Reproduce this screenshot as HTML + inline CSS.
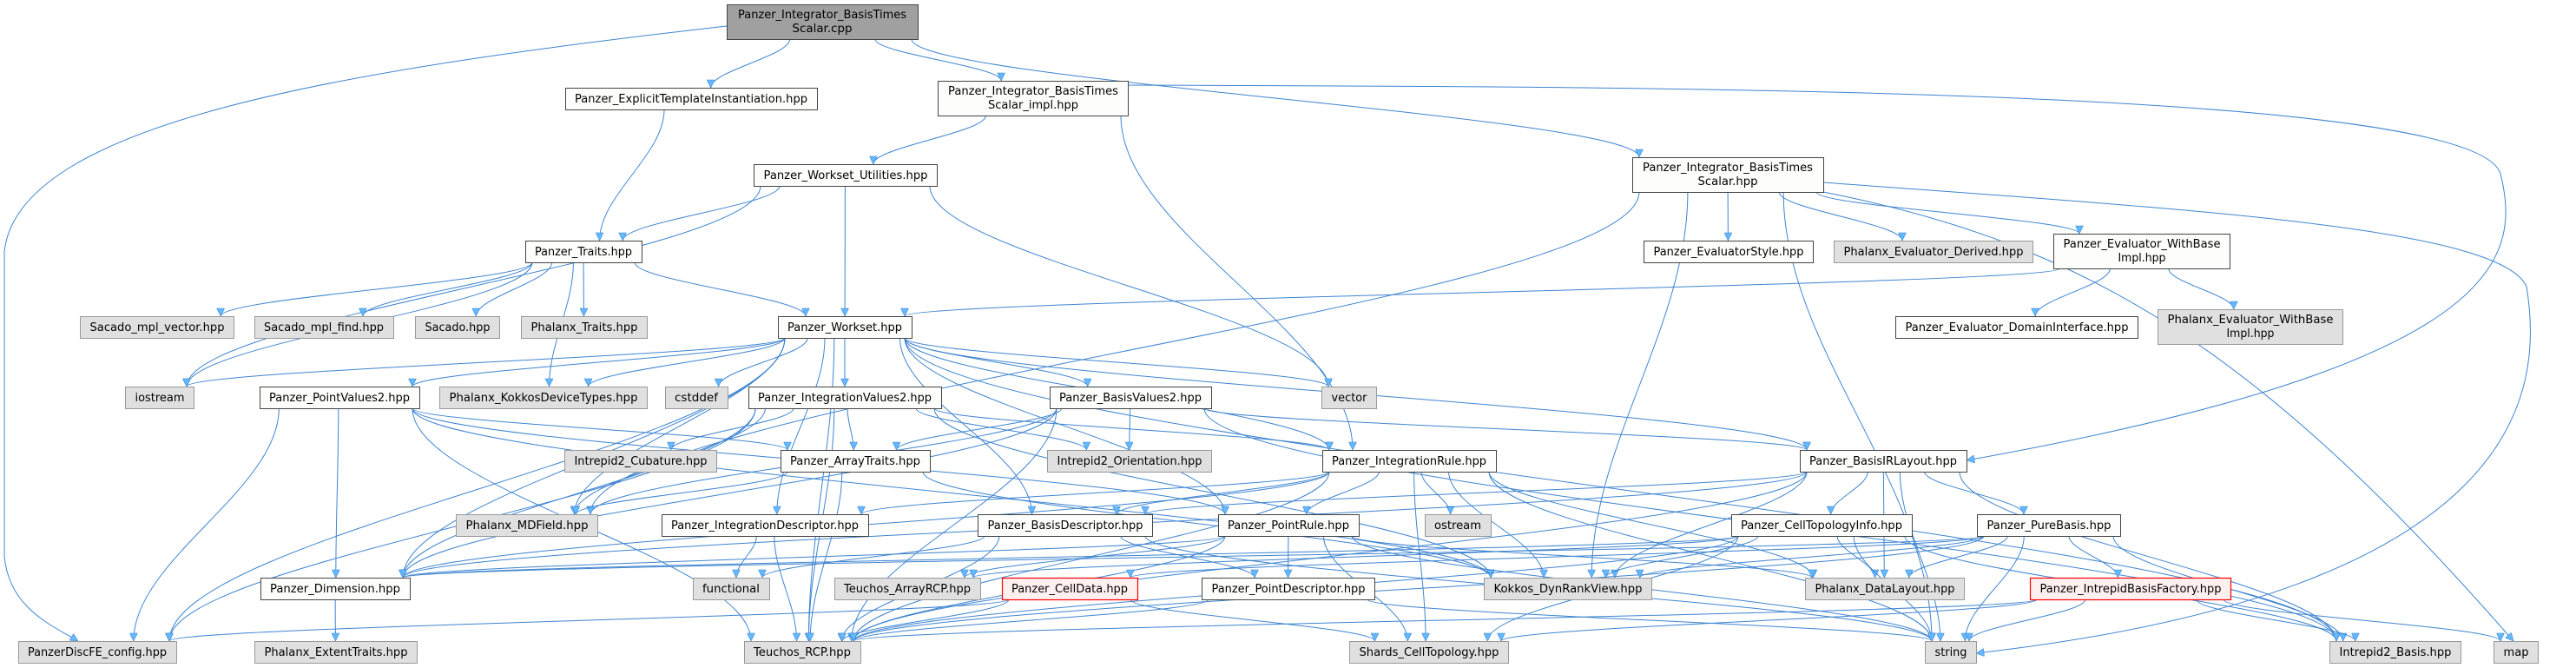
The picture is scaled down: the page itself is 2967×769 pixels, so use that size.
<!DOCTYPE html>
<html><head><meta charset="utf-8">
<style>
html,body{margin:0;padding:0;background:#fff;}
svg{display:block;}
text{font-family:"DejaVu Sans","Liberation Sans",sans-serif;font-size:13px;fill:#000;}
.n rect{fill:#fdfefb;stroke:#444;stroke-width:1;}
.g rect{fill:#e0e0e0;stroke:#999;stroke-width:1;}
.r rect{fill:#fff0f0;stroke:#ff0000;stroke-width:1.2;}
.root rect{fill:#a0a0a0;stroke:#444;stroke-width:1;}
.e{fill:none;stroke:#3f85d0;stroke-width:1;}
</style></head>
<body>
<svg id="s" width="2967" height="769" viewBox="0 0 2967 769" xmlns="http://www.w3.org/2000/svg">
<defs>
<marker id="a" viewBox="0 0 10 10" refX="10" refY="5" markerWidth="11" markerHeight="9" markerUnits="userSpaceOnUse" orient="auto">
<path d="M0,0 L10,5 L0,10 z" fill="#63b8ff" stroke="#3f85d0" stroke-width="0.6"/>
</marker>
</defs>
<g id="edges"></g>
<g id="nodes">
<g class="root"><rect x="837.5" y="5.5" width="220" height="40"/><text x="947" y="21" text-anchor="middle" textLength="194" lengthAdjust="spacingAndGlyphs">Panzer_Integrator_BasisTimes</text><text x="947" y="37" text-anchor="middle" textLength="69" lengthAdjust="spacingAndGlyphs">Scalar.cpp</text></g>
<g class="n"><rect x="651.5" y="101.5" width="290" height="25"/><text x="796" y="118" text-anchor="middle" textLength="268" lengthAdjust="spacingAndGlyphs">Panzer_ExplicitTemplateInstantiation.hpp</text></g>
<g class="n"><rect x="1080.5" y="93.5" width="219" height="40"/><text x="1190" y="109" text-anchor="middle" textLength="196" lengthAdjust="spacingAndGlyphs">Panzer_Integrator_BasisTimes</text><text x="1190" y="125" text-anchor="middle" textLength="104" lengthAdjust="spacingAndGlyphs">Scalar_impl.hpp</text></g>
<g class="n"><rect x="868.5" y="189.5" width="211" height="25"/><text x="974" y="206" text-anchor="middle" textLength="189" lengthAdjust="spacingAndGlyphs">Panzer_Workset_Utilities.hpp</text></g>
<g class="n"><rect x="1880.5" y="181.5" width="220" height="40"/><text x="1990" y="197" text-anchor="middle" textLength="196" lengthAdjust="spacingAndGlyphs">Panzer_Integrator_BasisTimes</text><text x="1990" y="213" text-anchor="middle" textLength="69" lengthAdjust="spacingAndGlyphs">Scalar.hpp</text></g>
<g class="n"><rect x="605.5" y="277.5" width="134" height="25"/><text x="672" y="294" text-anchor="middle" textLength="112" lengthAdjust="spacingAndGlyphs">Panzer_Traits.hpp</text></g>
<g class="n"><rect x="1893.5" y="277.5" width="195" height="25"/><text x="1991" y="294" text-anchor="middle" textLength="173" lengthAdjust="spacingAndGlyphs">Panzer_EvaluatorStyle.hpp</text></g>
<g class="g"><rect x="2112.5" y="277.5" width="229" height="25"/><text x="2227" y="294" text-anchor="middle" textLength="207" lengthAdjust="spacingAndGlyphs">Phalanx_Evaluator_Derived.hpp</text></g>
<g class="n"><rect x="2365.5" y="269.5" width="203" height="40"/><text x="2467" y="285" text-anchor="middle" textLength="181" lengthAdjust="spacingAndGlyphs">Panzer_Evaluator_WithBase</text><text x="2467" y="301" text-anchor="middle" textLength="55" lengthAdjust="spacingAndGlyphs">Impl.hpp</text></g>
<g class="g"><rect x="92.5" y="364.5" width="177" height="25"/><text x="181" y="381" text-anchor="middle" textLength="155" lengthAdjust="spacingAndGlyphs">Sacado_mpl_vector.hpp</text></g>
<g class="g"><rect x="293.5" y="364.5" width="160" height="25"/><text x="373" y="381" text-anchor="middle" textLength="138" lengthAdjust="spacingAndGlyphs">Sacado_mpl_find.hpp</text></g>
<g class="g"><rect x="478.5" y="364.5" width="97" height="25"/><text x="527" y="381" text-anchor="middle" textLength="75" lengthAdjust="spacingAndGlyphs">Sacado.hpp</text></g>
<g class="g"><rect x="600.5" y="364.5" width="145" height="25"/><text x="673" y="381" text-anchor="middle" textLength="123" lengthAdjust="spacingAndGlyphs">Phalanx_Traits.hpp</text></g>
<g class="n"><rect x="896.5" y="364.5" width="154" height="25"/><text x="973" y="381" text-anchor="middle" textLength="132" lengthAdjust="spacingAndGlyphs">Panzer_Workset.hpp</text></g>
<g class="n"><rect x="2183.5" y="364.5" width="279" height="25"/><text x="2323" y="381" text-anchor="middle" textLength="257" lengthAdjust="spacingAndGlyphs">Panzer_Evaluator_DomainInterface.hpp</text></g>
<g class="g"><rect x="2485.5" y="356.5" width="213" height="40"/><text x="2592" y="372" text-anchor="middle" textLength="191" lengthAdjust="spacingAndGlyphs">Phalanx_Evaluator_WithBase</text><text x="2592" y="388" text-anchor="middle" textLength="55" lengthAdjust="spacingAndGlyphs">Impl.hpp</text></g>
<g class="g"><rect x="144.5" y="445.5" width="79" height="25"/><text x="184" y="462" text-anchor="middle" textLength="57" lengthAdjust="spacingAndGlyphs">iostream</text></g>
<g class="n"><rect x="299.5" y="445.5" width="184" height="25"/><text x="391" y="462" text-anchor="middle" textLength="162" lengthAdjust="spacingAndGlyphs">Panzer_PointValues2.hpp</text></g>
<g class="g"><rect x="506.5" y="445.5" width="239" height="25"/><text x="626" y="462" text-anchor="middle" textLength="217" lengthAdjust="spacingAndGlyphs">Phalanx_KokkosDeviceTypes.hpp</text></g>
<g class="g"><rect x="766.5" y="445.5" width="72" height="25"/><text x="802" y="462" text-anchor="middle" textLength="50" lengthAdjust="spacingAndGlyphs">cstddef</text></g>
<g class="n"><rect x="862.5" y="445.5" width="222" height="25"/><text x="973" y="462" text-anchor="middle" textLength="200" lengthAdjust="spacingAndGlyphs">Panzer_IntegrationValues2.hpp</text></g>
<g class="n"><rect x="1209.5" y="445.5" width="186" height="25"/><text x="1302" y="462" text-anchor="middle" textLength="164" lengthAdjust="spacingAndGlyphs">Panzer_BasisValues2.hpp</text></g>
<g class="g"><rect x="1522.5" y="445.5" width="63" height="25"/><text x="1554" y="462" text-anchor="middle" textLength="41" lengthAdjust="spacingAndGlyphs">vector</text></g>
<g class="g"><rect x="650.5" y="518.5" width="175" height="25"/><text x="738" y="535" text-anchor="middle" textLength="153" lengthAdjust="spacingAndGlyphs">Intrepid2_Cubature.hpp</text></g>
<g class="n"><rect x="899.5" y="518.5" width="172" height="25"/><text x="985" y="535" text-anchor="middle" textLength="150" lengthAdjust="spacingAndGlyphs">Panzer_ArrayTraits.hpp</text></g>
<g class="g"><rect x="1206.5" y="518.5" width="189" height="25"/><text x="1301" y="535" text-anchor="middle" textLength="167" lengthAdjust="spacingAndGlyphs">Intrepid2_Orientation.hpp</text></g>
<g class="n"><rect x="1523.5" y="518.5" width="200" height="25"/><text x="1623" y="535" text-anchor="middle" textLength="178" lengthAdjust="spacingAndGlyphs">Panzer_IntegrationRule.hpp</text></g>
<g class="n"><rect x="2073.5" y="518.5" width="192" height="25"/><text x="2169" y="535" text-anchor="middle" textLength="170" lengthAdjust="spacingAndGlyphs">Panzer_BasisIRLayout.hpp</text></g>
<g class="g"><rect x="525.5" y="592.5" width="163" height="25"/><text x="607" y="609" text-anchor="middle" textLength="141" lengthAdjust="spacingAndGlyphs">Phalanx_MDField.hpp</text></g>
<g class="n"><rect x="762.5" y="592.5" width="238" height="25"/><text x="881" y="609" text-anchor="middle" textLength="216" lengthAdjust="spacingAndGlyphs">Panzer_IntegrationDescriptor.hpp</text></g>
<g class="n"><rect x="1126.5" y="592.5" width="201" height="25"/><text x="1227" y="609" text-anchor="middle" textLength="179" lengthAdjust="spacingAndGlyphs">Panzer_BasisDescriptor.hpp</text></g>
<g class="n"><rect x="1403.5" y="592.5" width="162" height="25"/><text x="1484" y="609" text-anchor="middle" textLength="140" lengthAdjust="spacingAndGlyphs">Panzer_PointRule.hpp</text></g>
<g class="g"><rect x="1641.5" y="592.5" width="76" height="25"/><text x="1679" y="609" text-anchor="middle" textLength="54" lengthAdjust="spacingAndGlyphs">ostream</text></g>
<g class="n"><rect x="1994.5" y="592.5" width="208" height="25"/><text x="2098" y="609" text-anchor="middle" textLength="186" lengthAdjust="spacingAndGlyphs">Panzer_CellTopologyInfo.hpp</text></g>
<g class="n"><rect x="2277.5" y="592.5" width="165" height="25"/><text x="2360" y="609" text-anchor="middle" textLength="143" lengthAdjust="spacingAndGlyphs">Panzer_PureBasis.hpp</text></g>
<g class="n"><rect x="300.5" y="665.5" width="172" height="25"/><text x="386" y="682" text-anchor="middle" textLength="150" lengthAdjust="spacingAndGlyphs">Panzer_Dimension.hpp</text></g>
<g class="g"><rect x="798.5" y="665.5" width="88" height="25"/><text x="842" y="682" text-anchor="middle" textLength="66" lengthAdjust="spacingAndGlyphs">functional</text></g>
<g class="g"><rect x="961.5" y="665.5" width="168" height="25"/><text x="1045" y="682" text-anchor="middle" textLength="146" lengthAdjust="spacingAndGlyphs">Teuchos_ArrayRCP.hpp</text></g>
<g class="r"><rect x="1154.5" y="665.5" width="156" height="25"/><text x="1232" y="682" text-anchor="middle" textLength="134" lengthAdjust="spacingAndGlyphs">Panzer_CellData.hpp</text></g>
<g class="n"><rect x="1384.5" y="665.5" width="199" height="25"/><text x="1484" y="682" text-anchor="middle" textLength="177" lengthAdjust="spacingAndGlyphs">Panzer_PointDescriptor.hpp</text></g>
<g class="g"><rect x="1709.5" y="665.5" width="193" height="25"/><text x="1806" y="682" text-anchor="middle" textLength="171" lengthAdjust="spacingAndGlyphs">Kokkos_DynRankView.hpp</text></g>
<g class="g"><rect x="2079.5" y="665.5" width="183" height="25"/><text x="2171" y="682" text-anchor="middle" textLength="161" lengthAdjust="spacingAndGlyphs">Phalanx_DataLayout.hpp</text></g>
<g class="r"><rect x="2338.5" y="665.5" width="231" height="25"/><text x="2454" y="682" text-anchor="middle" textLength="209" lengthAdjust="spacingAndGlyphs">Panzer_IntrepidBasisFactory.hpp</text></g>
<g class="g"><rect x="21.5" y="738.5" width="182" height="25"/><text x="112" y="755" text-anchor="middle" textLength="160" lengthAdjust="spacingAndGlyphs">PanzerDiscFE_config.hpp</text></g>
<g class="g"><rect x="293.5" y="738.5" width="187" height="25"/><text x="387" y="755" text-anchor="middle" textLength="165" lengthAdjust="spacingAndGlyphs">Phalanx_ExtentTraits.hpp</text></g>
<g class="g"><rect x="857.5" y="738.5" width="134" height="25"/><text x="924" y="755" text-anchor="middle" textLength="112" lengthAdjust="spacingAndGlyphs">Teuchos_RCP.hpp</text></g>
<g class="g"><rect x="1554.5" y="738.5" width="183" height="25"/><text x="1646" y="755" text-anchor="middle" textLength="161" lengthAdjust="spacingAndGlyphs">Shards_CellTopology.hpp</text></g>
<g class="g"><rect x="2217.5" y="738.5" width="59" height="25"/><text x="2247" y="755" text-anchor="middle" textLength="37" lengthAdjust="spacingAndGlyphs">string</text></g>
<g class="g"><rect x="2683.5" y="738.5" width="151" height="25"/><text x="2759" y="755" text-anchor="middle" textLength="129" lengthAdjust="spacingAndGlyphs">Intrepid2_Basis.hpp</text></g>
<g class="g"><rect x="2872.5" y="738.5" width="51" height="25"/><text x="2898" y="755" text-anchor="middle" textLength="29" lengthAdjust="spacingAndGlyphs">map</text></g>
</g>
</svg>
<script>
var N={
cpp:[837,1058,5,45],ETI:[651,941,101,126],IMPL:[1080,1299,93,133],WU:[868,1079,189,214],IH:[1880,2100,181,221],
TR:[605,739,277,302],ES:[1893,2088,277,302],PED:[2112,2341,277,302],EWB:[2365,2568,269,309],
SMV:[92,269,364,389],SMF:[293,453,364,389],SAC:[478,575,364,389],PT:[600,745,364,389],WS:[896,1050,364,389],EDI:[2183,2462,364,389],PEW:[2485,2698,356,396],
IOS:[144,223,445,470],PV:[299,483,445,470],KDT:[506,745,445,470],CST:[766,838,445,470],IV:[862,1084,445,470],BV:[1209,1395,445,470],VEC:[1522,1585,445,470],
CUB:[650,825,518,543],AT:[899,1071,518,543],ORI:[1206,1395,518,543],IR:[1523,1723,518,543],BIR:[2073,2265,518,543],
MDF:[525,688,592,617],ID:[762,1000,592,617],BD:[1126,1327,592,617],PR:[1403,1565,592,617],OST:[1641,1717,592,617],CTI:[1994,2202,592,617],PB:[2277,2442,592,617],
DIM:[300,472,665,690],FUN:[798,886,665,690],ARCP:[961,1129,665,690],CD:[1154,1310,665,690],PD:[1384,1583,665,690],DRV:[1709,1902,665,690],DL:[2079,2262,665,690],IBF:[2338,2569,665,690],
CFG:[21,203,738,763],ET:[293,480,738,763],RCP:[857,991,738,763],SCT:[1554,1737,738,763],STR:[2217,2276,738,763],IB:[2683,2834,738,763],MAP:[2872,2923,738,763]};
var E=[
['cpp','ETI'],['cpp','IMPL'],['cpp','IH'],
['ETI','TR'],
['IMPL','WU'],['IMPL','IR'],
['WU','TR'],['WU','WS'],['WU','VEC'],['WU','IOS'],
['IH','ES'],['IH','PED'],['IH','EWB'],['IH','DRV'],['IH','MDF'],['IH','STR'],
['EWB','EDI'],['EWB','PEW'],['EWB','WS'],
['TR','SMV'],['TR','SMF'],['TR','SAC'],['TR','PT'],['TR','WS'],['TR','KDT'],['TR','IOS'],
['WS','IOS'],['WS','PV'],['WS','KDT'],['WS','CST'],['WS','IV'],['WS','BV'],['WS','VEC'],['WS','DIM'],['WS','ID'],['WS','BD'],['WS','RCP'],['WS','CFG'],['WS','BIR'],['WS','IR'],['WS','IB'],['WS','MDF'],['WS','PR'],
['PV','CFG'],['PV','DIM'],['PV','RCP'],['PV','AT'],['PV','PR'],['PV','DRV'],
['IV','CUB'],['IV','AT'],['IV','MDF'],['IV','IR'],['IV','DIM'],['IV','RCP'],['IV','CFG'],['IV','DRV'],['IV','ORI'],
['BV','AT'],['BV','ORI'],['BV','BIR'],['BV','MDF'],['BV','IB'],['BV','RCP'],['BV','DIM'],
['AT','MDF'],['AT','DRV'],['AT','RCP'],
['IR','PR'],['IR','OST'],['IR','ID'],['IR','RCP'],['IR','SCT'],['IR','DRV'],['IR','STR'],['IR','DIM'],['IR','DL'],['IR','BD'],
['BIR','CTI'],['BIR','PB'],['BIR','DL'],['BIR','DRV'],['BIR','RCP'],['BIR','STR'],['BIR','IB'],['BIR','DIM'],['BIR','BD'],
['PR','PD'],['PR','SCT'],['PR','RCP'],['PR','ARCP'],['PR','DL'],['PR','STR'],['PR','DIM'],
['ID','FUN'],['ID','RCP'],
['BD','PD'],['BD','FUN'],['BD','STR'],['BD','RCP'],
['CTI','DL'],['CTI','DRV'],['CTI','SCT'],['CTI','STR'],['CTI','RCP'],['CTI','DIM'],['CTI','IB'],['CTI','ARCP'],
['PB','IBF'],['PB','DL'],['PB','STR'],['PB','IB'],['PB','RCP'],['PB','CD'],['PB','DIM'],['PB','DRV'],
['CD','CFG'],['CD','RCP'],['CD','SCT'],
['PD','STR'],['PD','RCP'],
['IBF','STR'],['IBF','IB'],['IBF','MAP'],['IBF','RCP'],['IBF','SCT'],
['DIM','ET']
];
function cl(v,a,b){return Math.max(a,Math.min(b,v));}
var out='';
E.forEach(function(e){
 var s=N[e[0]],t=N[e[1]];
 var scx=(s[0]+s[1])/2,tcx=(t[0]+t[1])/2;
 var sx=cl(scx+(tcx-scx)*0.25,s[0]+8,s[1]-8);
 var tx=cl(tcx+(scx-tcx)*0.15,t[0]+8,t[1]-8);
 var sy=s[3],ty=t[2];
 var d;
 if(Math.abs(ty-sy)<5){
   d='M'+sx+','+sy+' C'+sx+','+(sy+40)+' '+tx+','+(ty-40)+' '+tx+','+ty;
 } else {
   d='M'+sx.toFixed(1)+','+sy+' C'+sx.toFixed(1)+','+(sy+(ty-sy)*0.35).toFixed(1)+' '+tx.toFixed(1)+','+(ty-(ty-sy)*0.35).toFixed(1)+' '+tx.toFixed(1)+','+ty;
 }
 out+='<path class="e" d="'+d+'" marker-end="url(#a)"/>';
});
out+='<path class="e" d="M837,30 C400,80 20,140 5,290 L5,640 C10,700 60,720 90,738" marker-end="url(#a)"/>';
out+='<path class="e" d="M1299,98 C1900,100 2850,100 2880,200 C2905,300 2880,420 2265,530" marker-end="url(#a)"/>';
out+='<path class="e" d="M2100,210 C2500,240 2880,260 2910,330 C2930,450 2910,680 2276,752" marker-end="url(#a)"/>';
out+='<path class="e" d="M2100,221 C2400,280 2600,400 2895,738" marker-end="url(#a)"/>';
document.getElementById('edges').innerHTML=out;
</script>
</body></html>
